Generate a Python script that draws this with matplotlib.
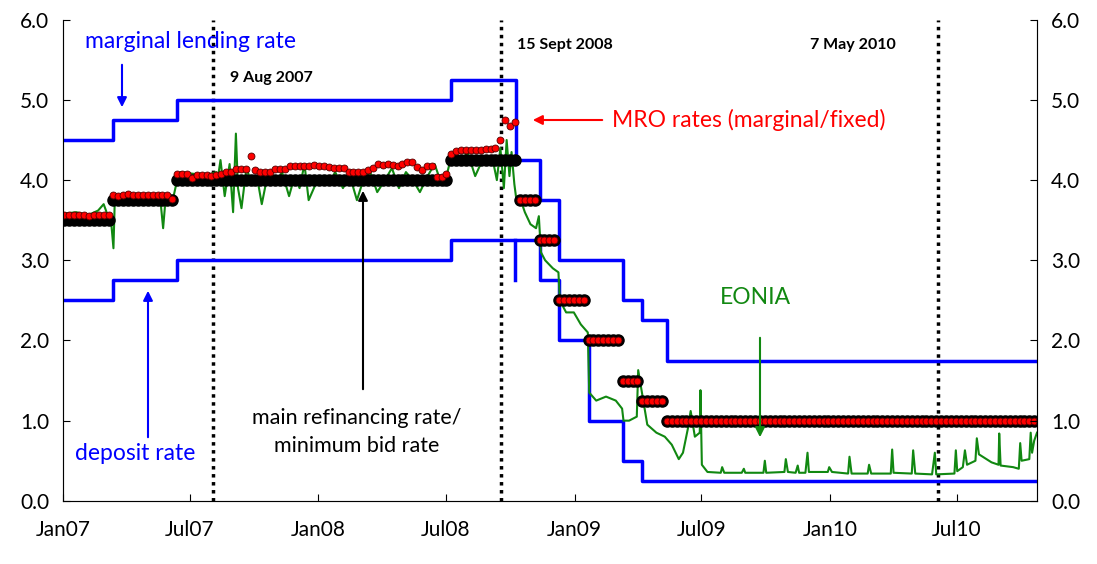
import matplotlib
matplotlib.use("Agg")
import matplotlib.pyplot as plt
import pandas as pd

plt.rcParams["font.family"] = ["Lato", "DejaVu Sans"]

# standing facilities (step changes: start date, rate)
mlr_dates = ["2007-01-01", "2007-03-14", "2007-06-13", "2008-07-09", "2008-10-09",
             "2008-11-12", "2008-12-10", "2009-03-11", "2009-04-08", "2009-05-13", "2010-10-24"]
mlr_rates = [4.50, 4.75, 5.00, 5.25, 4.25, 3.75, 3.00, 2.50, 2.25, 1.75, 1.75]

dep_dates = ["2007-01-01", "2007-03-14", "2007-06-13", "2008-07-09", "2008-11-12",
             "2008-12-10", "2009-01-21", "2009-03-11", "2009-04-08", "2010-10-24"]
dep_rates = [2.50, 2.75, 3.00, 3.25, 2.75, 2.00, 1.00, 0.50, 0.25, 0.25]

# weekly MRO: fixed / minimum bid and marginal rates
mro_fixed = ([3.50] * 10 + [3.75] * 13 + [4.00] * 56 + [4.25] * 14
             + [3.75] * 4 + [3.25] * 4 + [2.50] * 6 + [2.00] * 7 + [1.50] * 4 + [1.25] * 5 + [1.00] * 77)
mro_marginal = ([3.57, 3.56, 3.56, 3.56, 3.56, 3.55, 3.56, 3.56, 3.56, 3.56]
                + [3.81, 3.80, 3.81, 3.83, 3.82, 3.82, 3.82, 3.82, 3.82, 3.82, 3.82, 3.82, 3.76]
                + [4.07, 4.07, 4.08, 4.03, 4.06, 4.06, 4.06, 4.05, 4.06]
                + [4.08, 4.10, 4.10, 4.14, 4.14, 4.14, 4.30, 4.12, 4.10, 4.10, 4.10, 4.14, 4.14, 4.14,
                   4.17, 4.17, 4.17, 4.17, 4.17, 4.19, 4.18, 4.17, 4.16, 4.15, 4.15, 4.15, 4.10, 4.10,
                   4.10, 4.10, 4.12, 4.15, 4.20, 4.19, 4.20, 4.19, 4.18, 4.20, 4.23, 4.23, 4.16, 4.13,
                   4.17, 4.17, 4.04, 4.04, 4.07]
                + [4.33, 4.36, 4.37, 4.38, 4.38, 4.38, 4.38, 4.39, 4.39, 4.40]
                + [4.50, 4.75, 4.68, 4.73]
                + [3.75] * 4 + [3.25] * 4 + [2.50] * 6 + [2.00] * 7 + [1.50] * 4 + [1.25] * 5 + [1.00] * 77)

eonia_dates = ["2007-01-01", "2007-01-20", "2007-02-05", "2007-02-20", "2007-02-28", "2007-03-05",
               "2007-03-10", "2007-03-14", "2007-03-16", "2007-04-01", "2007-04-20", "2007-05-05",
               "2007-05-20", "2007-05-24", "2007-05-28", "2007-06-08", "2007-06-13", "2007-06-18",
               "2007-07-05", "2007-07-25", "2007-08-08", "2007-08-09", "2007-08-14", "2007-08-20",
               "2007-08-27", "2007-09-01", "2007-09-05", "2007-09-08", "2007-09-13", "2007-09-20",
               "2007-09-28", "2007-10-05", "2007-10-12", "2007-10-20", "2007-11-01", "2007-11-10",
               "2007-11-20", "2007-11-28", "2007-12-05", "2007-12-12", "2007-12-18", "2007-12-28",
               "2008-01-05", "2008-01-15", "2008-01-25", "2008-02-05", "2008-02-15", "2008-02-25",
               "2008-03-05", "2008-03-15", "2008-03-25", "2008-04-05", "2008-04-15", "2008-04-25",
               "2008-05-05", "2008-05-15", "2008-05-25", "2008-06-05", "2008-06-15", "2008-06-25",
               "2008-07-02", "2008-07-09", "2008-07-20", "2008-08-01", "2008-08-12", "2008-08-25",
               "2008-09-05", "2008-09-12", "2008-09-17", "2008-09-22", "2008-09-26", "2008-09-30",
               "2008-10-03", "2008-10-07", "2008-10-10", "2008-10-15", "2008-10-22", "2008-10-30",
               "2008-11-07", "2008-11-11", "2008-11-14", "2008-11-20", "2008-12-01", "2008-12-09",
               "2008-12-11", "2008-12-20", "2008-12-31", "2009-01-10", "2009-01-20", "2009-01-22",
               "2009-02-01", "2009-02-15", "2009-03-01", "2009-03-10", "2009-03-12", "2009-03-20",
               "2009-03-31", "2009-04-02", "2009-04-15", "2009-04-28", "2009-05-10", "2009-05-20",
               "2009-05-30", "2009-06-05", "2009-06-12", "2009-06-16", "2009-06-22", "2009-06-29",
               "2009-06-30", "2009-07-02", "2009-07-10",
               "2009-07-29", "2009-07-31", "2009-08-03", "2009-08-28", "2009-08-31", "2009-09-02",
               "2009-09-28", "2009-09-30", "2009-10-02", "2009-10-28", "2009-10-30", "2009-11-02",
               "2009-11-13", "2009-11-16", "2009-11-18", "2009-11-27", "2009-11-30", "2009-12-02",
               "2009-12-29", "2009-12-31", "2010-01-04", "2010-01-27", "2010-01-29", "2010-02-01",
               "2010-02-24", "2010-02-26", "2010-03-01", "2010-03-29", "2010-03-31", "2010-04-02",
               "2010-04-28", "2010-04-30", "2010-05-03", "2010-05-27", "2010-05-31", "2010-06-02",
               "2010-06-28", "2010-06-30", "2010-07-02", "2010-07-10", "2010-07-13", "2010-07-16",
               "2010-07-28", "2010-07-30", "2010-08-02", "2010-08-20", "2010-08-30", "2010-08-31",
               "2010-09-02", "2010-09-20", "2010-09-28", "2010-09-30", "2010-10-02", "2010-10-13",
               "2010-10-15", "2010-10-17", "2010-10-20", "2010-10-24"]
eonia_values = [3.58, 3.60, 3.56, 3.62, 3.70, 3.58, 3.55, 3.15, 3.78, 3.82, 3.78, 3.80,
                3.76, 3.40, 3.82, 3.80, 4.00, 4.10, 4.08, 4.06, 4.10, 3.95, 4.25, 3.80,
                4.20, 3.60, 4.58, 3.90, 3.65, 4.15, 3.95, 4.05, 3.70, 4.05, 3.95, 4.10,
                3.80, 4.05, 3.90, 4.20, 3.75, 3.95, 4.05, 3.95, 4.10, 3.90, 4.05, 3.75,
                4.00, 4.10, 3.85, 4.00, 4.15, 3.90, 4.10, 4.00, 3.85, 4.05, 4.20, 3.95,
                4.05, 4.30, 4.20, 4.35, 4.05, 4.30, 4.30, 4.00, 4.40, 3.90, 4.50, 4.05,
                4.35, 3.95, 3.75, 3.78, 3.60, 3.45, 3.40, 3.55, 3.10, 3.00, 2.90, 2.85,
                2.50, 2.35, 2.35, 2.20, 2.10, 1.35, 1.25, 1.30, 1.25, 1.15, 1.00, 1.00,
                1.05, 1.63, 0.95, 0.85, 0.80, 0.70, 0.52, 0.60, 0.90, 1.12, 0.80, 0.85,
                1.38, 0.45, 0.36,
                0.35, 0.42, 0.35, 0.35, 0.40, 0.35,
                0.35, 0.50, 0.35, 0.36, 0.52, 0.36,
                0.35, 0.44, 0.35, 0.35, 0.60, 0.36,
                0.36, 0.42, 0.36, 0.34, 0.55, 0.34,
                0.34, 0.45, 0.34, 0.34, 0.64, 0.35,
                0.34, 0.63, 0.34, 0.33, 0.60, 0.33,
                0.34, 0.63, 0.37, 0.42, 0.63, 0.45,
                0.50, 0.78, 0.58, 0.48, 0.45, 0.84,
                0.44, 0.42, 0.40, 0.72, 0.50, 0.52,
                0.85, 0.60, 0.75, 0.85]

# event markers, placed where the reference draws them
event_dates = ["2007-08-03", "2008-09-18", "2010-06-05"]
xtick_labels = ["Jan07", "Jul07", "Jan08", "Jul08", "Jan09", "Jul09", "Jan10", "Jul10"]

week_dates = pd.date_range("2007-01-03", periods=len(mro_fixed), freq="7D")

fig = plt.figure(figsize=(10.97, 5.64), dpi=100)
ax = fig.add_axes([0.0575, 0.112, 0.8878, 0.853])

ax.step(pd.to_datetime(mlr_dates), mlr_rates, where="post", color="#0000ff", lw=2.5, zorder=3)
ax.step(pd.to_datetime(dep_dates), dep_rates, where="post", color="#0000ff", lw=2.5, zorder=3)
ax.plot(pd.to_datetime(["2008-10-08", "2008-10-08"]), [3.25, 2.75], color="#0000ff", lw=2.5, zorder=3)
ax.plot(pd.to_datetime(eonia_dates), eonia_values, color="#118811", lw=1.5, zorder=4)
ax.plot(week_dates, mro_fixed, "o", color="black", ms=8, zorder=5)
ax.plot(week_dates, mro_marginal, "o", color="#ff0000", mec="#550000", mew=0.6, ms=5, zorder=6)

for d in event_dates:
    ax.axvline(pd.Timestamp(d), color="black", ls=(0, (1, 1.3)), lw=2.5, zorder=2)

ax.set_xlim(pd.Timestamp("2007-01-01"), pd.Timestamp("2010-10-24"))
ax.set_ylim(0, 6)
ticks = pd.date_range("2007-01-01", periods=len(xtick_labels), freq="6MS")
ax.set_xticks(ticks)
ax.set_xticklabels(xtick_labels, fontsize=15)
ax.set_yticks([0, 1, 2, 3, 4, 5, 6])
ax.set_yticklabels([f"{v:.1f}" for v in range(7)], fontsize=15)
ax.tick_params(direction="in", length=5, pad=10)
ax.tick_params(axis="x", pad=14)
ax.spines["top"].set_visible(False)
for s in ["left", "right", "bottom"]:
    ax.spines[s].set_color("#888888")
ax2 = ax.twinx()
ax2.set_ylim(0, 6)
ax2.set_yticks([0, 1, 2, 3, 4, 5, 6])
ax2.set_yticklabels([f"{v:.1f}" for v in range(7)], fontsize=15)
ax2.tick_params(direction="in", length=5, pad=10)
ax2.spines["top"].set_visible(False)


def note(text, xy, xytext, color, size=16.5, **kw):
    fig_h = 564
    ax2.annotate(text, xy=(xy[0], fig_h - xy[1]), xytext=(xytext[0], fig_h - xytext[1]),
                 xycoords="figure pixels", textcoords="figure pixels", color=color,
                 fontsize=size, zorder=10, **kw)


def arrow(c):
    return dict(arrowstyle="-|>", color=c, lw=1.5, mutation_scale=14)


note("marginal lending rate", (85, 42), (85, 42), "#0000ff", va="center")
note("", (122, 110), (122, 62), "#0000ff", arrowprops=arrow("#0000ff"))
note("deposit rate", (75, 453), (75, 453), "#0000ff", va="center")
note("", (148, 288), (148, 440), "#0000ff", arrowprops=arrow("#0000ff"))
note("MRO rates (marginal/fixed)", (612, 120), (612, 120), "#ff0000", va="center")
note("", (530, 120), (605, 120), "#ff0000", arrowprops=arrow("#ff0000"))
note("EONIA", (720, 298), (720, 298), "#118811", va="center")
note("", (760, 440), (760, 335), "#118811", arrowprops=arrow("#118811"))
note("main refinancing rate/\nminimum bid rate", (357, 432), (357, 432), "black",
     ha="center", va="center", linespacing=1.5, size=15.5)
note("", (363, 188), (363, 392), "black", arrowprops=arrow("black"))
note("9 Aug 2007", (230, 78), (230, 78), "black", size=11.5, weight="bold", va="center")
note("15 Sept 2008", (517, 45), (517, 45), "black", size=11.5, weight="bold", va="center")
note("7 May 2010", (810, 45), (810, 45), "black", size=11.5, weight="bold", va="center")

fig.savefig("out.png", dpi=100)
